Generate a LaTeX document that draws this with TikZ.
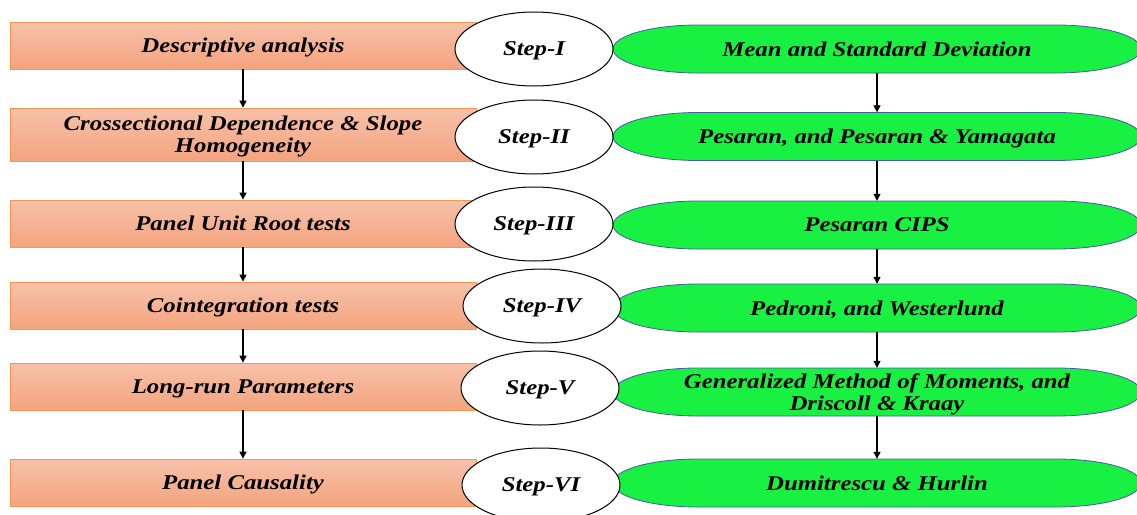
\documentclass[tikz,border=0pt]{standalone}
\usepackage{fontspec}
\setmainfont[FakeStretch=1.18]{Liberation Serif}
\usepackage{tikz}
\usetikzlibrary{arrows.meta, positioning, shapes.geometric}

\definecolor{salmonTop}{RGB}{247,194,170}
\definecolor{salmonBot}{RGB}{244,163,126}
\definecolor{boxEdge}{RGB}{247,150,80}
\definecolor{pillGreen}{RGB}{24,240,66}
\definecolor{pillEdge}{RGB}{70,90,170}

\tikzset{
  labelfont/.style={font=\fontsize{21}{22}\selectfont\bfseries\itshape, text depth=0pt},
  taskbox/.style={rectangle, draw=boxEdge, line width=0.8pt, top color=salmonTop, bottom color=salmonBot,
    minimum width=466pt, align=center, labelfont},
  stepnode/.style={ellipse, draw=black, line width=1pt, fill=white, minimum width=158pt,
    minimum height=74pt, inner sep=0pt, labelfont},
  methodpill/.style={draw=pillEdge, line width=0.8pt, fill=pillGreen},
  methodtext/.style={rectangle, minimum width=528pt, minimum height=48pt, align=center, labelfont},
  flowarrow/.style={-{Triangle[length=7pt,width=7pt]}, line width=1.2pt, black}
}

\begin{document}
\begin{tikzpicture}[x=1pt, y=-1pt]
        % 画布范围
        \useasboundingbox (0,0) rectangle (1137,514);

        % 每一行:左边的任务框、右边的方法框、中间的步骤椭圆
        \foreach \i/\ly/\lh/\ey/\ex/\py/\task/\step/\method in {
            1/45.5/47/49/534/49/{Descriptive analysis}/{Step-I}/{Mean and Standard Deviation},
            2/134.5/53/137/534/136.5/{Crossectional Dependence \& Slope\\Homogeneity}/{Step-II}/{Pesaran, and Pesaran \& Yamagata},
            3/223.5/47/224/534/225/{Panel Unit Root tests}/{Step-III}/{Pesaran CIPS},
            4/305.5/47/306/542/308/{Cointegration tests}/{Step-IV}/{Pedroni, and Westerlund},
            5/386.5/47/388/540/392/{Long-run Parameters}/{Step-V}/{Generalized Method of Moments, and\\Driscoll \& Kraay},
            6/482.5/47/485/541/483/{Panel Causality}/{Step-VI}/{Dumitrescu \& Hurlin}} {
            \node[taskbox, minimum height=\lh pt] (L\i) at (243,\ly) {\task};
            % 两端为半椭圆的绿色长条
            \draw[methodpill] (698,\py-24) -- (1056,\py-24)
                arc[start angle=-90, end angle=90, x radius=85, y radius=24]
                -- (698,\py+24)
                arc[start angle=90, end angle=270, x radius=85, y radius=24] -- cycle;
            \node[methodtext] (M\i) at (877,\py) {\method};
            \node[stepnode] (S\i) at (\ex,\ey) {\step};
        }

        % 相邻两行之间的箭头
        \foreach \i/\j in {1/2,2/3,3/4,4/5,5/6} {
            \draw[flowarrow] (L\i) -- (L\j);
            \draw[flowarrow] (M\i) -- (M\j);
        }
    \end{tikzpicture}
\end{document}
